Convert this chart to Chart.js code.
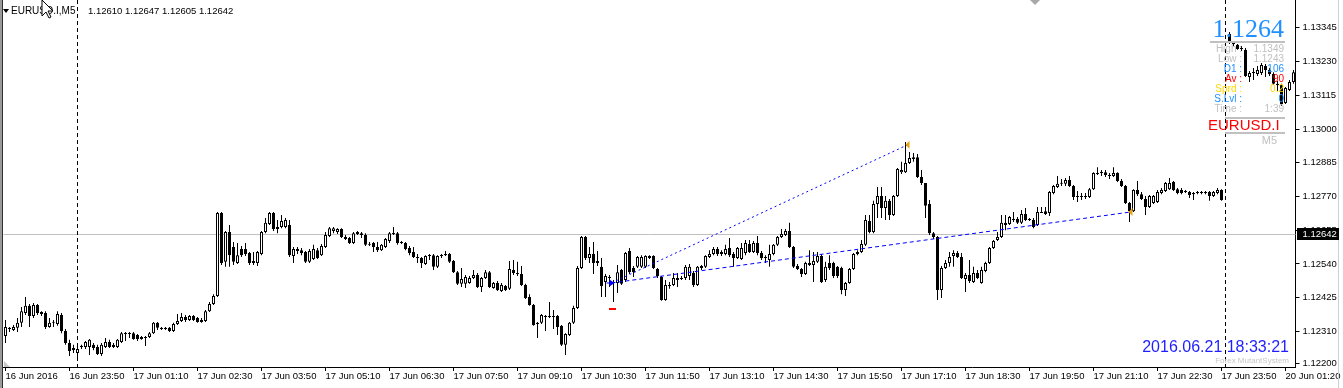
<!DOCTYPE html>
<html>
<head>
<meta charset="utf-8">
<title>EURUSD.I,M5</title>
<script src="https://cdn.jsdelivr.net/npm/chart.js"></script>
<style>
    html, body { margin: 0; padding: 0; background: #fff; }
    #wrap { width: 1343px; height: 388px; }
</style>
</head>
<body>
<div id="wrap"><canvas id="chart" width="1343" height="388"></canvas></div>
<script>
// M5 bars, 16 Jun 22:30 -> 20 Jun ~01:30 (one slot under the day separator is empty)
const opens = [
1.12294,1.12318,1.12315,1.12322,1.12339,1.12373,1.12397,1.12362,1.12400,1.12376,
1.12373,1.12325,1.12342,1.12335,1.12366,1.12311,1.12270,1.12253,1.12236,1.12257,
1.12257,1.12257,1.12264,1.12257,1.12233,1.12257,1.12274,1.12264,1.12257,1.12274,
1.12301,1.12304,1.12304,1.12298,1.12284,1.12291,1.12291,1.12304,1.12339,1.12322,
1.12322,1.12322,1.12311,1.12335,1.12345,1.12359,1.12349,1.12362,1.12356,1.12342,
1.12345,1.12379,1.12403,1.12431,1.12714,1.12547,1.12649,1.12598,1.12543,1.12591,
1.12591,1.12577,1.12550,1.12543,1.12574,1.12649,1.12676,1.12714,1.12666,1.12666,
1.12666,1.12673,1.12567,1.12591,1.12587,1.12581,1.12547,1.12557,1.12587,1.12570,
1.12598,1.12635,1.12652,1.12649,1.12659,1.12632,1.12628,1.12611,1.12649,1.12645,
1.12639,1.12608,1.12611,1.12598,1.12587,1.12598,1.12618,1.12642,1.12645,1.12615,
1.12611,1.12594,1.12581,1.12564,1.12560,1.12540,1.12567,1.12570,1.12530,1.12567,
1.12570,1.12574,1.12550,1.12512,1.12472,1.12472,1.12475,1.12492,1.12502,1.12461,
1.12492,1.12512,1.12458,1.12475,1.12448,1.12465,1.12455,1.12519,1.12509,1.12506,
1.12468,1.12427,1.12400,1.12335,1.12339,1.12359,1.12362,1.12359,1.12362,1.12329,
1.12264,1.12298,1.12339,1.12390,1.12526,1.12632,1.12560,1.12574,1.12550,1.12530,
1.12478,1.12495,1.12478,1.12475,1.12519,1.12485,1.12584,1.12526,1.12530,1.12530,
1.12530,1.12560,1.12567,1.12523,1.12495,1.12417,1.12465,1.12468,1.12485,1.12489,
1.12492,1.12499,1.12509,1.12468,1.12526,1.12530,1.12564,1.12574,1.12591,1.12574,
1.12574,1.12594,1.12574,1.12560,1.12557,1.12577,1.12608,1.12581,1.12611,1.12577,
1.12564,1.12553,1.12574,1.12605,1.12632,1.12639,1.12652,1.12598,1.12533,1.12523,
1.12506,1.12543,1.12536,1.12547,1.12567,1.12485,1.12543,1.12543,1.12530,1.12526,
1.12451,1.12475,1.12523,1.12574,1.12581,1.12605,1.12686,1.12649,1.12744,1.12772,
1.12731,1.12755,1.12707,1.12772,1.12853,1.12853,1.12884,1.12904,1.12904,1.12836,
1.12816,1.12744,1.12645,1.12632,1.12451,1.12526,1.12543,1.12567,1.12577,1.12564,
1.12489,1.12502,1.12478,1.12509,1.12475,1.12516,1.12543,1.12594,1.12622,1.12632,
1.12680,1.12676,1.12690,1.12693,1.12680,1.12710,1.12693,1.12690,1.12673,1.12714,
1.12720,1.12714,1.12782,1.12802,1.12813,1.12813,1.12826,1.12806,1.12768,1.12772,
1.12768,1.12768,1.12795,1.12847,1.12850,1.12853,1.12840,1.12840,1.12850,1.12823,
1.12806,1.12748,1.12720,1.12792,1.12778,1.12761,1.12734,1.12748,1.12751,1.12782,
1.12789,1.12795,1.12819,1.12795,1.12792,1.12789,1.12785,1.12778,1.12782,1.12785,
1.12782,1.12785,1.12772,1.12782,1.12792,null,1.13324,1.13290,1.13287,1.13276,
1.13270,1.13177,1.13191,1.13188,1.13191,1.13215,1.13201,1.13188,1.13154,1.13150,
1.13089,1.13133,1.13160
];
const highs = [
1.12349,1.12325,1.12332,1.12356,1.12393,1.12427,1.12403,1.12407,1.12403,1.12379,
1.12379,1.12356,1.12349,1.12379,1.12373,1.12318,1.12281,1.12264,1.12267,1.12264,
1.12277,1.12284,1.12270,1.12264,1.12270,1.12287,1.12281,1.12270,1.12284,1.12308,
1.12308,1.12308,1.12308,1.12301,1.12294,1.12294,1.12308,1.12342,1.12342,1.12325,
1.12325,1.12325,1.12339,1.12369,1.12373,1.12366,1.12366,1.12366,1.12359,1.12356,
1.12383,1.12410,1.12437,1.12717,1.12717,1.12652,1.12673,1.12615,1.12611,1.12601,
1.12611,1.12581,1.12581,1.12584,1.12652,1.12697,1.12717,1.12717,1.12690,1.12707,
1.12697,1.12690,1.12598,1.12598,1.12594,1.12584,1.12591,1.12605,1.12594,1.12608,
1.12649,1.12666,1.12666,1.12662,1.12662,1.12639,1.12632,1.12649,1.12652,1.12649,
1.12645,1.12615,1.12615,1.12615,1.12608,1.12628,1.12649,1.12666,1.12649,1.12618,
1.12615,1.12601,1.12598,1.12574,1.12564,1.12570,1.12574,1.12574,1.12570,1.12574,
1.12584,1.12577,1.12553,1.12516,1.12526,1.12502,1.12499,1.12519,1.12509,1.12495,
1.12519,1.12516,1.12478,1.12482,1.12475,1.12468,1.12550,1.12553,1.12547,1.12533,
1.12472,1.12437,1.12403,1.12342,1.12369,1.12366,1.12410,1.12383,1.12366,1.12332,
1.12304,1.12342,1.12397,1.12533,1.12635,1.12635,1.12598,1.12615,1.12584,1.12560,
1.12506,1.12502,1.12485,1.12536,1.12523,1.12581,1.12594,1.12533,1.12567,1.12570,
1.12570,1.12570,1.12570,1.12526,1.12499,1.12485,1.12478,1.12509,1.12509,1.12499,
1.12536,1.12540,1.12516,1.12533,1.12536,1.12570,1.12587,1.12598,1.12598,1.12587,
1.12605,1.12628,1.12581,1.12598,1.12611,1.12622,1.12622,1.12618,1.12635,1.12584,
1.12570,1.12605,1.12608,1.12635,1.12659,1.12659,1.12680,1.12601,1.12540,1.12526,
1.12547,1.12587,1.12581,1.12581,1.12574,1.12547,1.12570,1.12547,1.12533,1.12530,
1.12478,1.12526,1.12577,1.12587,1.12622,1.12707,1.12707,1.12755,1.12802,1.12802,
1.12772,1.12761,1.12775,1.12867,1.12888,1.12956,1.12922,1.12918,1.12915,1.12860,
1.12816,1.12758,1.12649,1.12635,1.12533,1.12553,1.12581,1.12587,1.12584,1.12577,
1.12509,1.12553,1.12530,1.12519,1.12530,1.12547,1.12598,1.12622,1.12649,1.12707,
1.12707,1.12703,1.12717,1.12700,1.12724,1.12731,1.12697,1.12697,1.12734,1.12734,
1.12734,1.12789,1.12809,1.12840,1.12830,1.12833,1.12840,1.12809,1.12789,1.12782,
1.12782,1.12799,1.12853,1.12870,1.12860,1.12860,1.12850,1.12870,1.12853,1.12830,
1.12809,1.12751,1.12795,1.12823,1.12785,1.12772,1.12775,1.12775,1.12792,1.12799,
1.12819,1.12833,1.12823,1.12799,1.12799,1.12792,1.12789,1.12785,1.12789,1.12789,
1.12789,1.12789,1.12789,1.12799,1.12795,null,1.13331,1.13300,1.13290,1.13283,
1.13276,1.13198,1.13208,1.13215,1.13225,1.13222,1.13208,1.13194,1.13164,1.13154,
1.13143,1.13167,1.13201
];
const lows = [
1.12270,1.12308,1.12311,1.12308,1.12325,1.12366,1.12325,1.12356,1.12366,1.12362,
1.12318,1.12322,1.12325,1.12329,1.12304,1.12264,1.12226,1.12236,1.12223,1.12250,
1.12250,1.12229,1.12246,1.12229,1.12226,1.12253,1.12253,1.12253,1.12253,1.12270,
1.12277,1.12287,1.12281,1.12277,1.12281,1.12260,1.12287,1.12301,1.12315,1.12315,
1.12315,1.12308,1.12308,1.12332,1.12342,1.12342,1.12345,1.12345,1.12339,1.12339,
1.12342,1.12376,1.12400,1.12427,1.12536,1.12530,1.12530,1.12536,1.12540,1.12564,
1.12567,1.12536,1.12536,1.12533,1.12570,1.12645,1.12673,1.12652,1.12645,1.12662,
1.12662,1.12564,1.12543,1.12574,1.12570,1.12543,1.12543,1.12553,1.12557,1.12567,
1.12594,1.12632,1.12645,1.12642,1.12628,1.12622,1.12608,1.12608,1.12639,1.12628,
1.12601,1.12601,1.12581,1.12581,1.12584,1.12594,1.12611,1.12639,1.12605,1.12608,
1.12587,1.12570,1.12560,1.12543,1.12526,1.12536,1.12553,1.12519,1.12526,1.12560,
1.12567,1.12543,1.12509,1.12468,1.12461,1.12458,1.12472,1.12489,1.12458,1.12444,
1.12489,1.12458,1.12455,1.12448,1.12444,1.12448,1.12451,1.12502,1.12499,1.12465,
1.12420,1.12397,1.12329,1.12287,1.12335,1.12311,1.12356,1.12318,1.12298,1.12260,
1.12229,1.12294,1.12335,1.12386,1.12523,1.12553,1.12543,1.12506,1.12533,1.12427,
1.12427,1.12461,1.12410,1.12441,1.12468,1.12478,1.12506,1.12495,1.12526,1.12526,
1.12526,1.12557,1.12523,1.12492,1.12414,1.12414,1.12455,1.12465,1.12461,1.12485,
1.12485,1.12485,1.12461,1.12465,1.12519,1.12526,1.12560,1.12570,1.12567,1.12567,
1.12570,1.12564,1.12530,1.12557,1.12553,1.12570,1.12577,1.12577,1.12570,1.12553,
1.12543,1.12530,1.12570,1.12601,1.12628,1.12635,1.12594,1.12526,1.12519,1.12495,
1.12502,1.12533,1.12478,1.12543,1.12475,1.12478,1.12519,1.12492,1.12492,1.12437,
1.12431,1.12472,1.12519,1.12570,1.12577,1.12601,1.12645,1.12645,1.12697,1.12697,
1.12690,1.12690,1.12703,1.12768,1.12847,1.12850,1.12881,1.12888,1.12833,1.12809,
1.12697,1.12639,1.12625,1.12417,1.12424,1.12523,1.12530,1.12530,1.12560,1.12489,
1.12444,1.12475,1.12475,1.12489,1.12472,1.12512,1.12540,1.12591,1.12618,1.12628,
1.12655,1.12673,1.12683,1.12676,1.12676,1.12686,1.12686,1.12662,1.12669,1.12714,
1.12707,1.12703,1.12778,1.12799,1.12806,1.12806,1.12802,1.12758,1.12751,1.12758,
1.12761,1.12765,1.12792,1.12843,1.12840,1.12836,1.12830,1.12836,1.12819,1.12802,
1.12744,1.12683,1.12717,1.12772,1.12758,1.12707,1.12731,1.12744,1.12748,1.12778,
1.12785,1.12792,1.12789,1.12778,1.12778,1.12782,1.12765,1.12758,1.12778,1.12778,
1.12778,1.12755,1.12768,1.12778,1.12755,null,1.13290,1.13283,1.13270,1.13266,
1.13177,1.13160,1.13167,1.13181,1.13184,1.13177,1.13181,1.13150,1.13130,1.13079,
1.13085,1.13130,1.13154
];
const closes = [
1.12325,1.12322,1.12325,1.12339,1.12379,1.12397,1.12362,1.12400,1.12373,1.12369,
1.12325,1.12339,1.12339,1.12369,1.12311,1.12270,1.12243,1.12246,1.12250,1.12260,
1.12274,1.12281,1.12253,1.12233,1.12264,1.12274,1.12257,1.12257,1.12281,1.12304,
1.12304,1.12301,1.12284,1.12284,1.12291,1.12287,1.12304,1.12339,1.12322,1.12318,
1.12318,1.12311,1.12335,1.12345,1.12359,1.12349,1.12362,1.12349,1.12342,1.12349,
1.12379,1.12403,1.12431,1.12714,1.12543,1.12649,1.12570,1.12547,1.12570,1.12570,
1.12574,1.12543,1.12543,1.12581,1.12649,1.12680,1.12714,1.12659,1.12659,1.12686,
1.12690,1.12570,1.12591,1.12584,1.12577,1.12547,1.12584,1.12591,1.12560,1.12601,
1.12639,1.12662,1.12662,1.12659,1.12632,1.12625,1.12611,1.12645,1.12642,1.12639,
1.12605,1.12605,1.12598,1.12587,1.12605,1.12625,1.12645,1.12645,1.12611,1.12611,
1.12591,1.12577,1.12564,1.12560,1.12543,1.12567,1.12570,1.12530,1.12567,1.12570,
1.12574,1.12547,1.12512,1.12472,1.12489,1.12495,1.12492,1.12502,1.12461,1.12492,
1.12512,1.12461,1.12475,1.12451,1.12468,1.12451,1.12523,1.12509,1.12506,1.12468,
1.12424,1.12400,1.12332,1.12339,1.12366,1.12362,1.12359,1.12362,1.12325,1.12264,
1.12301,1.12339,1.12390,1.12526,1.12632,1.12560,1.12574,1.12543,1.12543,1.12465,
1.12499,1.12492,1.12475,1.12512,1.12472,1.12577,1.12512,1.12512,1.12564,1.12564,
1.12567,1.12567,1.12526,1.12499,1.12417,1.12468,1.12468,1.12492,1.12492,1.12492,
1.12530,1.12530,1.12468,1.12530,1.12533,1.12567,1.12574,1.12591,1.12574,1.12581,
1.12591,1.12570,1.12560,1.12594,1.12594,1.12611,1.12581,1.12611,1.12577,1.12560,
1.12560,1.12574,1.12605,1.12632,1.12642,1.12652,1.12598,1.12530,1.12523,1.12506,
1.12543,1.12536,1.12550,1.12567,1.12478,1.12530,1.12526,1.12499,1.12499,1.12451,
1.12475,1.12523,1.12574,1.12581,1.12608,1.12690,1.12649,1.12744,1.12772,1.12731,
1.12755,1.12707,1.12772,1.12864,1.12860,1.12884,1.12901,1.12898,1.12836,1.12816,
1.12738,1.12645,1.12632,1.12451,1.12526,1.12543,1.12564,1.12577,1.12564,1.12492,
1.12502,1.12482,1.12509,1.12492,1.12519,1.12543,1.12594,1.12618,1.12632,1.12680,
1.12673,1.12700,1.12693,1.12680,1.12710,1.12690,1.12690,1.12666,1.12717,1.12717,
1.12710,1.12785,1.12806,1.12813,1.12816,1.12826,1.12806,1.12768,1.12772,1.12768,
1.12772,1.12795,1.12850,1.12850,1.12853,1.12843,1.12843,1.12850,1.12823,1.12806,
1.12748,1.12720,1.12792,1.12778,1.12761,1.12734,1.12772,1.12772,1.12785,1.12792,
1.12816,1.12816,1.12792,1.12782,1.12782,1.12785,1.12775,1.12782,1.12785,1.12782,
1.12785,1.12772,1.12785,1.12792,1.12758,null,1.13293,1.13293,1.13273,1.13273,
1.13181,1.13191,1.13194,1.13201,1.13218,1.13201,1.13188,1.13154,1.13150,1.13085,
1.13140,1.13160,1.13194
];

// time scale labels, one every 16 bars
const timeTicks = ['16 Jun 2016', '16 Jun 23:50', '17 Jun 01:10', '17 Jun 02:30', '17 Jun 03:50',
    '17 Jun 05:10', '17 Jun 06:30', '17 Jun 07:50', '17 Jun 09:10', '17 Jun 10:30', '17 Jun 11:50',
    '17 Jun 13:10', '17 Jun 14:30', '17 Jun 15:50', '17 Jun 17:10', '17 Jun 18:30', '17 Jun 19:50',
    '17 Jun 21:10', '17 Jun 22:30', '17 Jun 23:50', '20 Jun 01:20'];
const priceTicks = [1.13345, 1.13230, 1.13115, 1.13000, 1.12885, 1.12770, 1.12655, 1.12540, 1.12425, 1.12310, 1.12200];
const priceMin = 1.121885;
const priceMax = 1.13440;
const bidPrice = 1.12642;
const daySeparators = [18, 305];

// the two drawn trend lines (bar index, price)
const trendStart = [151.5, 1.12475];
const trendUpperEnd = [225.5, 1.12946];
const trendLowerEnd = [281.25, 1.12717];
const lowMarker = [151.5, 1.12391];

const headerOHLC = '1.12610 1.12647 1.12605 1.12642';
const infoRows = [
    ['High :', '1.1349', '#c0c0c0'],
    ['Low :', '1.1243', '#c0c0c0'],
    ['D1 :', '106', '#1e90ff'],
    ['Av :', '90', '#ff0000'],
    ['Sprd :', '0.2', '#ffd700'],
    ['S.Lvl :', '0', '#1e90ff'],
    ['Time :', '1:39', '#c0c0c0']
];

const FONT = 'Liberation Sans, Arial, sans-serif';
const categories = opens.map((_, i) => i % 16 === 0 ? timeTicks[i / 16] : '');
const bodies = opens.map((o, i) => o === null ? null : [o, closes[i]]);
const wicks = lows.map((l, i) => l === null ? null : [l, highs[i]]);
const bodyFill = opens.map((o, i) => closes[i] >= o ? '#ffffff' : '#000000');

function tri(ctx, pts, fill) {
    ctx.beginPath();
    ctx.moveTo(pts[0][0], pts[0][1]);
    for (let k = 1; k < pts.length; k++) ctx.lineTo(pts[k][0], pts[k][1]);
    ctx.closePath();
    ctx.fillStyle = fill;
    ctx.fill();
}

const overlay = {
    id: 'overlay',
    beforeDatasetsDraw(chart) {
        const { ctx, chartArea: a, scales: { x, y } } = chart;
        ctx.save();
        // bid line
        const by = Math.round(y.getPixelForValue(bidPrice)) + 0.5;
        ctx.strokeStyle = '#c0c0c0';
        ctx.lineWidth = 1;
        ctx.beginPath();
        ctx.moveTo(a.left, by);
        ctx.lineTo(a.right, by);
        ctx.stroke();
        // period separators
        ctx.strokeStyle = '#000';
        ctx.setLineDash([4, 3]);
        daySeparators.forEach(i => {
            const px = Math.floor(x.getPixelForValue(i)) + 0.5;
            ctx.beginPath();
            ctx.moveTo(px, a.top);
            ctx.lineTo(px, a.bottom);
            ctx.stroke();
        });
        ctx.restore();
    },
    afterDatasetsDraw(chart) {
        const { ctx, scales: { x, y } } = chart;
        const P = p => [x.getPixelForValue(p[0]), y.getPixelForValue(p[1])];
        const s = P(trendStart), u = P(trendUpperEnd), l = P(trendLowerEnd);
        ctx.save();
        ctx.strokeStyle = '#0000ff';
        ctx.lineWidth = 1;
        ctx.setLineDash([2, 3]);
        ctx.beginPath(); ctx.moveTo(s[0], s[1]); ctx.lineTo(u[0], u[1]); ctx.stroke();
        ctx.setLineDash([4, 3]);
        ctx.beginPath(); ctx.moveTo(s[0], s[1]); ctx.lineTo(l[0], l[1]); ctx.stroke();
        ctx.setLineDash([]);
        // blue start arrow
        ctx.beginPath(); ctx.moveTo(s[0] - 5, s[1]); ctx.lineTo(s[0], s[1]); ctx.stroke();
        tri(ctx, [[s[0] - 2, s[1] - 3.5], [s[0] + 3, s[1]], [s[0] - 2, s[1] + 3.5]], '#0000ff');
        // orange end arrows
        [u, l].forEach(p => tri(ctx, [[p[0] - 2, p[1]], [p[0] + 2, p[1] - 4], [p[0] + 2, p[1] + 4]], '#e8a317'));
        // red low marker
        const m = P(lowMarker);
        ctx.fillStyle = '#ff0000';
        ctx.fillRect(Math.round(m[0]) - 3, Math.round(m[1]), 7, 2);
        ctx.restore();
    },
    afterDraw(chart) {
        const { ctx, chartArea: a, scales: { y } } = chart;
        ctx.save();
        // frame
        ctx.fillStyle = '#9a9a9a';
        ctx.fillRect(0, 0, 2, 388);
        ctx.fillStyle = '#303030';
        ctx.fillRect(2, 0, 1, 388);
        ctx.fillStyle = '#c8d0d8';
        ctx.fillRect(1338, 0, 1, 388);
        // scroll markers
        tri(ctx, [[1030, 0], [1040, 0], [1035, 5]], '#a8a8a8');
        tri(ctx, [[4, 361], [4, 367], [10, 367]], '#c8c8c8');

        // bid label on the price scale
        const by = Math.round(y.getPixelForValue(bidPrice));
        ctx.fillStyle = '#000';
        ctx.fillRect(a.right + 1.5, by - 6, 42, 12);
        ctx.fillStyle = '#fff';
        ctx.font = '9.5px ' + FONT;
        ctx.textBaseline = 'middle';
        ctx.textAlign = 'left';
        ctx.fillText(bidPrice.toFixed(5), a.right + 7, by + 0.5);

        // header
        tri(ctx, [[3, 9], [9, 9], [6, 13]], '#000');
        ctx.fillStyle = '#000';
        ctx.font = '10px ' + FONT;
        ctx.fillText('EURUSD.I,M5', 11, 11);
        ctx.font = '9.5px ' + FONT;
        ctx.fillText(headerOHLC, 88, 11);

        // mouse cursor
        ctx.beginPath();
        const c = [[42, 0], [42, 16], [46, 12], [49, 18], [51, 17], [48, 11], [53, 11]];
        ctx.moveTo(c[0][0], c[0][1]);
        c.slice(1).forEach(p => ctx.lineTo(p[0], p[1]));
        ctx.closePath();
        ctx.fillStyle = '#fff';
        ctx.fill();
        ctx.strokeStyle = '#000';
        ctx.lineWidth = 1;
        ctx.stroke();

        // info panel
        ctx.textAlign = 'right';
        ctx.fillStyle = '#1e90ff';
        ctx.font = '26px Liberation Serif, Times New Roman, serif';
        ctx.textBaseline = 'alphabetic';
        ctx.fillText(bidPrice.toFixed(4), 1284, 37);
        ctx.fillStyle = '#c0c0c0';
        ctx.fillRect(1210, 41, 75, 2);
        ctx.textBaseline = 'middle';
        ctx.font = '10px ' + FONT;
        infoRows.forEach((r, k) => {
            ctx.fillStyle = r[2];
            ctx.fillText(r[0], 1242, 49 + k * 10);
            ctx.fillText(r[1], 1284, 49 + k * 10);
        });
        ctx.fillStyle = '#c0c0c0';
        ctx.fillRect(1225, 117, 60, 2);
        ctx.fillRect(1225, 132, 60, 2);
        ctx.textAlign = 'left';
        ctx.fillStyle = '#ff0000';
        ctx.font = '15px ' + FONT;
        ctx.fillText('EURUSD.I', 1208, 126);
        ctx.textAlign = 'right';
        ctx.fillStyle = '#c0c0c0';
        ctx.font = '11px ' + FONT;
        ctx.fillText('M5', 1277, 141);

        // clock + watermark
        ctx.fillStyle = '#1f1fff';
        ctx.font = '16px ' + FONT;
        ctx.fillText('2016.06.21 18:33:21', 1289, 348);
        ctx.fillStyle = '#c8c8c8';
        ctx.font = '8px ' + FONT;
        ctx.fillText('Forex MutantSystem', 1289, 361);
        ctx.restore();
    }
};

const ctx = document.getElementById('chart').getContext('2d');
new Chart(ctx, {
    type: 'bar',
    data: {
        labels: categories,
        datasets: [
            {
                label: 'body',
                data: bodies,
                backgroundColor: bodyFill,
                borderColor: '#000',
                borderWidth: 1,
                borderSkipped: false,
                barThickness: 3,
                minBarLength: 1,
                inflateAmount: 0,
                grouped: false,
                order: 0
            },
            {
                label: 'wick',
                data: wicks,
                backgroundColor: '#000',
                borderWidth: 0,
                barThickness: 1,
                inflateAmount: 0,
                grouped: false,
                order: 1
            }
        ]
    },
    options: {
        responsive: false,
        animation: false,
        devicePixelRatio: 1,
        layout: { padding: { left: 3.5, top: 0, right: 0, bottom: 0 }, autoPadding: false },
        plugins: { legend: { display: false }, tooltip: { enabled: false } },
        scales: {
            x: {
                type: 'category',
                offset: true,
                afterBuildTicks: s => { s.ticks = timeTicks.map((_, k) => ({ value: k * 16 })); },
                afterFit: s => { s.height = 21; s.paddingLeft = 0; s.paddingRight = 0; },
                border: { display: true, color: '#000', width: 1 },
                grid: { display: true, drawOnChartArea: false, drawTicks: true, tickLength: 4, color: '#000', offset: false },
                ticks: {
                    autoSkip: false, maxRotation: 0, minRotation: 0, align: 'start', padding: 0,
                    color: '#000', font: { family: FONT, size: 9.5 },
                    callback: function (v) { return this.getLabelForValue(v); }
                }
            },
            y: {
                position: 'right',
                min: priceMin,
                max: priceMax,
                afterBuildTicks: s => { s.ticks = priceTicks.map(v => ({ value: v })); },
                afterFit: s => { s.width = 47.5; s.paddingTop = 0; s.paddingBottom = 0; },
                border: { display: true, color: '#000', width: 1 },
                grid: { display: true, drawOnChartArea: false, drawTicks: true, tickLength: 4, color: '#000' },
                ticks: {
                    padding: 3, color: '#000', font: { family: FONT, size: 9.5 },
                    callback: v => v.toFixed(5)
                }
            }
        }
    },
    plugins: [overlay]
});
</script>
</body>
</html>
